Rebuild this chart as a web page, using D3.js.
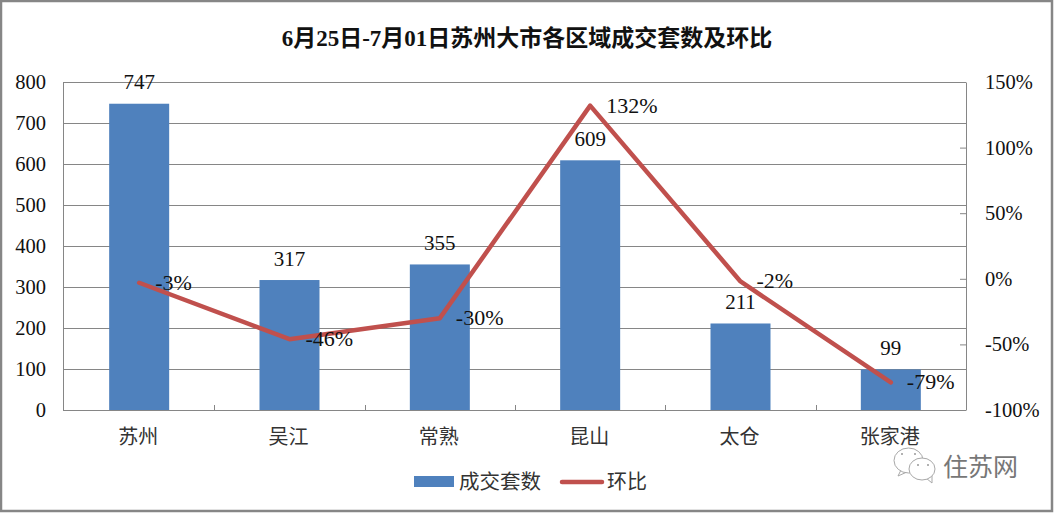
<!DOCTYPE html>
<html lang="zh-CN">
<head>
<meta charset="UTF-8">
<title>苏州大市各区域成交套数及环比</title>
<script src="https://d3js.org/d3.v7.min.js"></script>
<style>
    body { margin: 0; background: #fff; }
    svg { display: block; }
    text { font-family: "Liberation Serif", "Noto Sans CJK SC", serif; fill: #111; }
</style>
</head>
<body>
<div id="chart"></div>
<script>
    // 数据
    const categories = ["苏州", "吴江", "常熟", "昆山", "太仓", "张家港"];
    const counts = [747, 317, 355, 609, 211, 99];
    const ratios = [-3, -46, -30, 132, -2, -79];
    const leftTicks = [0, 100, 200, 300, 400, 500, 600, 700, 800];
    const rightTicks = [-100, -50, 0, 50, 100, 150];

    const width = 1054, height = 513;
    const plot = { left: 63, right: 966, top: 82, bottom: 410 };

    const svg = d3.select("#chart").append("svg")
        .attr("width", width)
        .attr("height", height);

    // 外框
    svg.append("rect")
        .attr("x", 1).attr("y", 1)
        .attr("width", width - 3).attr("height", height - 3)
        .attr("fill", "#fff")
        .attr("stroke", "#868686")
        .attr("stroke-width", 2.5);

    // 轴线画在 63.5，柱子按 64 起算
    const x = d3.scaleBand().domain(categories).range([plot.left + 1, plot.right]);
    const yLeft = d3.scaleLinear().domain([0, 800]).range([plot.bottom, plot.top]);
    const yRight = d3.scaleLinear().domain([-100, 150]).range([plot.bottom, plot.top]);

    // 网格线
    svg.append("g").selectAll("line")
        .data(leftTicks)
        .join("line")
        .attr("x1", plot.left).attr("x2", plot.right)
        .attr("y1", d => yLeft(d) + 0.5).attr("y2", d => yLeft(d) + 0.5)
        .attr("stroke", "#868686");

    // 柱
    const barWidth = 60;
    svg.append("g").selectAll("rect")
        .data(categories)
        .join("rect")
        .attr("x", d => x(d) + x.bandwidth() / 2 - barWidth / 2)
        .attr("width", barWidth)
        .attr("y", (d, i) => yLeft(counts[i]))
        .attr("height", (d, i) => plot.bottom - yLeft(counts[i]))
        .attr("fill", "#4f81bd");

    // 坐标轴
    const axisLeft = d3.axisLeft(yLeft).tickValues(leftTicks).tickSizeInner(0).tickSizeOuter(0).tickPadding(17);
    const axisRight = d3.axisRight(yRight).tickValues(rightTicks).tickSizeInner(-6).tickSizeOuter(0).tickPadding(19).tickFormat(d => d + "%");
    const styleAxis = g => {
        g.selectAll("path, line").attr("stroke", "#868686");
        g.selectAll("text").attr("font-size", 20.5).attr("font-family", null);
    };
    svg.append("g").attr("transform", `translate(${plot.left},0)`).call(axisLeft).call(styleAxis);
    svg.append("g").attr("transform", `translate(${plot.right},0)`).call(axisRight).call(styleAxis);

    // x 轴
    svg.append("line")
        .attr("x1", plot.left).attr("x2", plot.right)
        .attr("y1", plot.bottom + 0.5).attr("y2", plot.bottom + 0.5)
        .attr("stroke", "#868686");
    svg.append("g").selectAll("line")
        .data(categories.slice(1))
        .join("line")
        .attr("x1", d => Math.round(x(d)) + 0.5).attr("x2", d => Math.round(x(d)) + 0.5)
        .attr("y1", plot.bottom - 5).attr("y2", plot.bottom)
        .attr("stroke", "#868686");
    svg.append("g").selectAll("text")
        .data(categories)
        .join("text")
        .attr("x", d => x(d) + x.bandwidth() / 2 - 1)
        .attr("y", 444)
        .attr("text-anchor", "middle")
        .attr("font-size", 20)
        .style("fill", "#333")
        .text(d => d);

    // 折线
    const line = d3.line()
        .x((d, i) => x(categories[i]) + x.bandwidth() / 2)
        .y(d => yRight(d));
    svg.append("path")
        .datum(ratios)
        .attr("d", line)
        .attr("fill", "none")
        .attr("stroke", "#c0504d")
        .attr("stroke-width", 4.5)
        .attr("stroke-linecap", "round")
        .attr("stroke-linejoin", "round");

    // 数据标签
    svg.append("g").selectAll("text")
        .data(counts)
        .join("text")
        .attr("x", (d, i) => x(categories[i]) + x.bandwidth() / 2)
        .attr("y", d => yLeft(d) - 14.5)
        .attr("text-anchor", "middle")
        .attr("font-size", 21)
        .text(d => d);
    svg.append("g").selectAll("text")
        .data(ratios)
        .join("text")
        .attr("x", (d, i) => x(categories[i]) + x.bandwidth() / 2 + 16)
        .attr("y", d => yRight(d) + 7)
        .attr("font-size", 22)
        .text(d => d + "%");

    // 标题
    svg.append("text")
        .attr("x", 527).attr("y", 46)
        .attr("text-anchor", "middle")
        .attr("font-size", 23)
        .attr("font-weight", "bold")
        .text("6月25日-7月01日苏州大市各区域成交套数及环比");

    // 图例
    svg.append("rect").attr("x", 414).attr("y", 476).attr("width", 40).attr("height", 11).attr("fill", "#4f81bd");
    svg.append("text").attr("x", 459).attr("y", 489).attr("font-size", 20.5).style("fill", "#333").text("成交套数");
    svg.append("line").attr("x1", 562).attr("x2", 602).attr("y1", 482).attr("y2", 482)
        .attr("stroke", "#c0504d").attr("stroke-width", 4.5).attr("stroke-linecap", "round");
    svg.append("text").attr("x", 607).attr("y", 489).attr("font-size", 20).style("fill", "#333").text("环比");

    // 水印
    const mark = svg.append("g").attr("fill", "#fff").attr("stroke", "#a8a8a8").attr("stroke-width", 1);
    mark.append("path").attr("d", "M901 470 L898 476 L907 472 Z");
    mark.append("ellipse").attr("cx", 908.5).attr("cy", 460.5).attr("rx", 14.5).attr("ry", 12.5);
    mark.append("path").attr("d", "M926 478 L932 483 L932 475 Z");
    mark.append("ellipse").attr("cx", 922).attr("cy", 469).attr("rx", 13).attr("ry", 11);
    const eyes = svg.append("g").attr("fill", "#999");
    [[902, 454], [915, 454], [918, 465], [928, 465]].forEach(p => {
        eyes.append("circle").attr("cx", p[0]).attr("cy", p[1]).attr("r", 1);
    });
    svg.append("text").attr("x", 943).attr("y", 476)
        .attr("font-size", 25)
        .style("fill", "#777")
        .style("font-family", "'Noto Sans CJK SC'")
        .text("住苏网");
</script>
</body>
</html>
